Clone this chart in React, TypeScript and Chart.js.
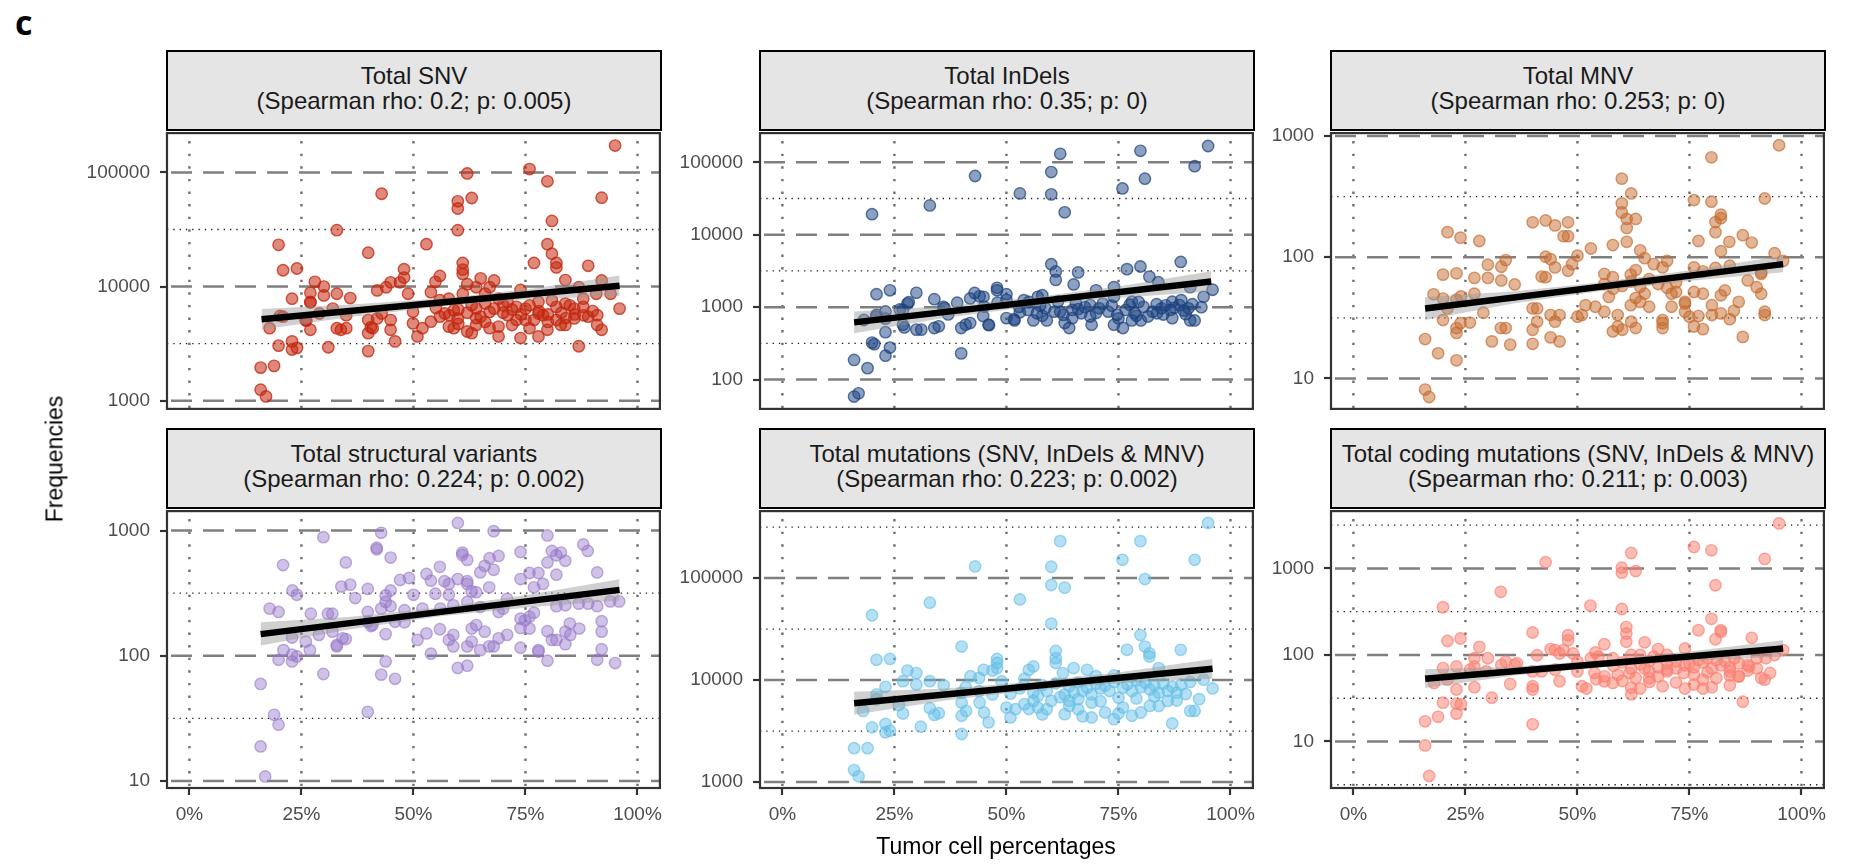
import React, { useEffect, useRef } from "react";
import { Chart, registerables } from "chart.js";

Chart.register(...registerables);

const FONT = "'Liberation Sans', Arial, Helvetica, sans-serif";

// ---------- shared axis data ----------
const xBreaks = [0, 25, 50, 75, 100];
const xBreakLabels = ["0%", "25%", "50%", "75%", "100%"];
const bandXs = [16, 36, 56, 76, 96];

// ---------- Panel 1: Total SNV ----------
const snvPoints: [number, number][] = [
  [95.0,172000],[75.9,107000],[62.0,98000],[79.9,83600],[42.9,65000],[92.0,60100],[63.0,59700],[59.9,55800],[59.9,48300],[80.9,37600],
  [32.9,31200],[59.9,31200],[19.9,23200],[52.9,23500],[79.9,23500],[39.9,19800],[80.9,19400],[76.9,16100],[81.9,16100],[81.9,14700],
  [61.0,16100],[61.0,14100],[61.0,12900],[89.0,15200],[20.9,13900],[24.0,14400],[47.9,14200],[47.9,12000],[47.0,10900],[44.9,10900],
  [28.0,11000],[55.9,12400],[54.9,11000],[65.0,11800],[68.0,11300],[83.9,11400],[92.0,11300],[30.0,10000],[27.0,8810],[27.0,7330],
  [30.0,8360],[32.9,8650],[35.9,7930],[22.9,7830],[41.9,9250],[43.9,9860],[48.8,8650],[53.9,8930],[62.0,10500],[64.0,9860],
  [67.0,9860],[73.9,9350],[86.9,9860],[90.8,8650],[94.0,8650],[96.0,6410],[17.9,4320],[20.9,5450],[25.9,5090],[27.0,4180],
  [29.0,5810],[32.0,6410],[35.0,5620],[32.9,4320],[33.8,4180],[35.0,4320],[39.9,5090],[39.9,3910],[40.9,4320],[41.9,5260],
  [42.9,5810],[44.9,5090],[44.9,4180],[45.9,3310],[49.9,6010],[49.9,4760],[50.9,3660],[52.0,4320],[53.9,4930],[55.9,5450],
  [57.0,5810],[57.9,4460],[59.0,4320],[59.9,5260],[62.0,4040],[63.0,3910],[64.0,4610],[65.0,5450],[66.0,7100],[67.0,4320],
  [68.0,6410],[69.0,4460],[69.0,3660],[71.0,5620],[73.9,3540],[75.0,6410],[75.9,4320],[76.9,5090],[77.9,3660],[78.9,5620],
  [79.9,4180],[81.9,5090],[82.9,4610],[83.9,4610],[84.9,6850],[85.9,5260],[86.9,3000],[87.9,6640],[89.0,5450],[91.0,4610],
  [92.0,4180],[91.0,5620],[19.9,3040],[22.9,3310],[22.9,2810],[24.0,2900],[31.0,2940],[39.9,2720],[15.9,1950],[18.9,2020],
  [15.9,1250],[17.1,1090],[57.9,7830],[59.0,6210],[63.0,6850],[64.0,6410],[70.0,6850],[71.0,7330],[73.0,6640],[75.9,6850],
  [77.9,7330],[80.9,7570],[81.9,6640],[83.9,7100],[85.9,6410],[87.9,7830],[55.9,7590],[61.0,8650],[66.0,8650],[69.0,7830],
  [73.0,5090],[75.0,5090],[77.9,5810],[20.2,5530],[26.1,5030],[27.0,7250],[40.5,4400],
  [58,5600],[60,6300],[62,5900],[64,5300],[67,6000],[70,5900],[72,6300],[74,5700],[78,6100],[80,5700],
  [83,5900],[86,5700],[88,5600],[90,6100],[72,4600],[80,4900],[84,5300],[60,4700],[66,4900],[55,6500]
];
const snvFitX = [16.1, 96];
const snvFitY = [5180, 10160];
const snvBandHi = [6370, 6950, 7850, 9510, 12500];
const snvBandLo = [4210, 5400, 6680, 7730, 8260];

// ---------- Panel 2: Total InDels ----------
const indelPoints: [number, number][] = [
  [95,168000],[79.9,144000],[62,131000],[92,88300],[60,73300],[43,64700],[80.9,59400],[75.9,43600],[53,37200],[60,36100],
  [32.9,25400],[20,19200],[63,20400],[60,3920],[88.9,4210],[79.9,3640],[76.9,3350],[66,3020],[61,3110],[61,2380],
  [81.9,2640],[65,2060],[83.9,2210],[74,1890],[96,1740],[91,1890],[47.9,1850],[47.9,1710],[24,1710],[29.9,1580],
  [21,1510],[50,1510],[44.9,1390],[41.9,1320],[33.9,1290],[27.9,1120],[35.9,1010],[39,1150],[53.9,1250],[57,1390],
  [58,1460],[70,1710],[74,1390],[78,1190],[87,1190],[89,1250],[94,1390],[23,871],[21,783],[26.9,916],
  [26.9,573],[29.9,490],[31,490],[33.9,516],[34.9,544],[39.9,516],[40.9,573],[41.9,604],[46,573],[50,706],
  [51.8,656],[56,656],[59,656],[63,604],[64,516],[69,573],[74,573],[76,516],[78,656],[80,656],
  [87,706],[91,656],[92,656],[16,187],[19,144],[20,324],[20.5,309],[23,451],[24,277],[23,214],
  [39.9,230],[16,58.3],[17,64.6],[52.8,1010],[54.8,915],[56.8,824],[58.7,964],[60.7,868],[62.7,783],[64.7,915],
  [66.7,824],[68.7,743],[70.7,964],[72.7,868],[74.7,783],[76.6,915],[78.6,824],[80.6,1010],[82.6,868],[84.6,964],
  [86.6,915],[88.6,1070],[90.6,964],[68.7,1070],[64.7,706],[81.6,743],[83.6,824],[26.2,931],[27.2,525],[28.2,1170],
  [36.2,977],[37,794],[42.9,1570],[44,1410],[44.8,755],[46.1,564],[51.7,681],[18.2,665],[20.9,741],[23,695],
  [55,1180],[57.5,1050],[61.5,1200],[65.5,1130],[67.5,1000],[71.5,1120],[73.5,1050],[77.5,1080],[79.5,1180],[83.5,1100],
  [85.5,1060],[87.5,980],[89.5,900],[91.5,1100],[93.5,1000],[62,870],[66,940],[70,830],[75,700],[79,760],
  [85,790],[90,800],[58,760],[53,850],[48,1150],[45,1020],[50,1260]
];
const indelFitX = [16, 95.7];
const indelFitY = [617, 2260];
const indelBandHi = [871, 1030, 1360, 1970, 3120];
const indelBandLo = [437, 711, 1030, 1365, 1640];

// ---------- Panel 3: Total MNV ----------
const mnvPoints: [number, number][] = [
  [95,839],[79.9,667],[59.9,445],[62,336],[76,296],[79.9,287],[91.8,305],[59.9,278],[59.9,234],[82,224],
  [82,210],[80.8,195],[63,207],[61,207],[61,174],[40,194],[42.9,201],[45,183],[47.9,194],[46.9,149],
  [47.9,149],[21,161],[23.9,145],[28.1,136],[80.8,161],[86.9,152],[88.9,132],[77,136],[83.9,134],[53,118],
  [57.9,126],[61,134],[64,114],[82,112],[50,103],[94,108],[95.9,93.3],[34,94.6],[42.9,101],[44,96.4],
  [45,82.4],[47.9,77.4],[48.8,87.7],[30,86.7],[33,83.4],[20,71.8],[23,73.6],[27,67.5],[30,67.5],[33,64.3],
  [36,59.6],[42,69.2],[42.9,68.4],[56,72.8],[57.9,68.4],[61.9,71.8],[63,78.3],[65,98.2],[67,87.7],[70,93.3],
  [69,82.4],[76,82.4],[78,76.4],[80.8,81.5],[84,85.1],[91,75.0],[91,72.8],[88,64.3],[90,56.6],[91,50.0],
  [17.9,49.4],[20,45.6],[21,37.8],[20,30.3],[23,44.7],[24,47.5],[27,50.0],[29,34.8],[26,28.9],[23.9,28.5],
  [23,26.0],[23,23.7],[16,21.1],[18.9,16.1],[23,14.1],[30.9,20.2],[35,19.0],[32.9,26.0],[34,26.0],[40,19.3],
  [44,21.8],[46,20.2],[40,25.2],[41,29.4],[41,37.8],[40,37.8],[44,33.3],[45,29.4],[46,33.3],[50,32.3],
  [51,33.3],[51.8,40.2],[54,39.0],[56,35.5],[57.9,24.4],[59,26.8],[60,25.2],[62,29.4],[63,26.0],[59,33.3],
  [61.9,40.2],[64,42.8],[65,50.0],[66,39.0],[69,30.3],[69,26.0],[69,28.5],[71,39.0],[74,41.5],[74,35.5],
  [75,32.3],[76,26.8],[78,25.5],[77,32.7],[80,33.3],[82,34.4],[84,30.8],[84.9,36.1],[86,42.8],[86.9,22.0],
  [91.8,33.3],[91.8,35.5],[80,40.2],[82,48.5],[82.9,53.2],[76,51.6],[78,50.0],[72,51.6],[71,50.0],[74,42.8],
  [16,8.09],[16.9,7.02],[56,60],[58,55],[60,58],[62,63],[64,57],[66,66],[68,60],[70,56],[72,62],[57,47],[63,46]
];
const mnvFitX = [16, 95.9];
const mnvFitY = [37.8, 87.7];
const mnvBandHi = [47.0, 52.4, 62.4, 78.9, 103];
const mnvBandLo = [30.3, 41.6, 53.1, 64.1, 75.0];

// ---------- Panel 4: Total structural variants ----------
const svPoints: [number, number][] = [
  [59.9,1150],[42.8,959],[67.9,989],[79.9,914],[29.9,885],[41.8,729],[41.8,708],[87.9,774],[88.9,687],[73.9,675],
  [60.9,667],[60.9,638],[62,583],[69,627],[67,601],[80.9,687],[81.9,635],[82.9,667],[83.9,573],[44.9,608],
  [20.9,530],[34.9,556],[55.9,513],[65.9,522],[67.9,486],[64.9,463],[79.9,556],[75.9,458],[77.9,458],[81.9,444],
  [91,463],[52.9,450],[53.9,398],[49,418],[47,403],[56.9,394],[57.9,375],[59.9,410],[62,394],[62,375],
  [73.9,410],[76.9,352],[78.9,375],[33.9,357],[35.9,370],[39.8,342],[23,332],[24,307],[44.9,332],[43.8,303],
  [63,326],[64,322],[66.9,352],[54.9,313],[57.9,307],[50,307],[37,289],[17.9,238],[19.9,224],[27.1,217],
  [31.9,217],[30.9,217],[39.8,224],[42.8,238],[43.8,269],[44.9,249],[48,231],[52,238],[56,238],[58.9,253],
  [62,269],[64.9,245],[69,224],[70,238],[70.9,285],[73.9,198],[74.9,192],[75.9,205],[76.9,221],[81.9,249],
  [83.9,253],[86.9,261],[89,261],[91,249],[93.9,272],[95.9,272],[92,189],[92,156],[87,165],[84.9,181],
  [83.9,156],[85,147],[81.9,134],[80.9,134],[79.9,157],[83.9,124],[73.9,167],[75.9,165],[73.9,116],[77.9,111],
  [77.9,108],[79.9,91.4],[91,92.9],[92,113],[95,87.5],[70.9,147],[69,138],[67.9,119],[65.9,156],[63,165],
  [64,176],[62,119],[63,130],[64.9,111],[66.9,119],[58.9,147],[58.9,119],[57.9,134],[55.9,163],[52.9,151],
  [50.9,134],[53.9,104],[45.9,187],[48,185],[40.9,176],[39.8,187],[43.8,149],[34.9,136],[32.9,122],[32.9,119],
  [28.9,147],[31.9,156],[26,130],[22.9,140],[26.9,111],[21,111],[22.9,102],[24,98.9],[19.9,92.9],[22.9,90.2],
  [29.9,71.6],[43.8,90.2],[42.8,70.8],[45.9,65.5],[59.9,80.0],[62,83.4],[15.9,59.7],[18.9,33.8],[19.9,28.2],[39.8,35.7],
  [15.9,18.9],[16.9,10.9],[34.2,138],[40.5,173]
];
const svFitX = [15.9, 96];
const svFitY = [149, 336];
const svBandHi = [185, 205, 243, 308, 408];
const svBandLo = [121, 163, 207, 244, 276];

// ---------- Panel 5: Total mutations ----------
const totPoints: [number, number][] = [
  [95,347000],[62,230000],[79.9,230000],[75.9,151000],[92,151000],[43,130000],[60,129000],[80.9,97700],[60,85500],[63,80500],
  [53,61700],[32.9,57300],[20,43200],[60,35800],[79.9,27600],[40,21300],[76.9,19800],[88.9,19800],[61,19300],[80.9,21300],
  [81.9,18300],[81.9,17000],[61,16400],[61,14700],[21,15800],[24,16100],[47.9,16100],[47.9,14700],[47.9,13100],[44.9,12600],
  [46.9,12400],[55,12600],[56,13600],[65,13100],[68,12600],[62.6,11700],[27.9,12400],[29.9,11700],[26.9,9750],[29.9,9040],
  [32.9,9750],[36,8910],[42,10900],[43.9,10500],[48.9,9750],[54,10300],[70,10900],[74,11100],[84,13100],[91,9590],
  [94,10100],[96,8280],[23,8590],[21,7230],[39.9,7500],[40.9,8510],[43.9,7800],[46.9,7230],[50.9,7350],[53,8280],
  [56,7520],[59,7800],[63,7230],[65,7520],[67,7800],[69,7230],[71,8280],[73,7800],[76,8400],[78,7800],
  [80,8530],[82,8090],[84,7520],[86,7800],[88,7520],[75,6710],[69,6010],[64,6240],[57,6970],[18,4990],
  [21,6470],[26,5700],[26.9,4700],[32.9,5300],[33.9,4560],[34.9,4730],[40,6010],[40,4470],[41,4990],[44,6010],
  [45,4810],[46,3850],[50,5380],[50.9,4300],[52,5180],[54,5800],[56,6240],[57,5380],[59,5180],[60,6240],
  [63,4630],[64,5580],[66,5180],[69,4300],[72,4810],[74,4140],[76,5380],[78,4470],[80,4810],[82,5580],
  [84,5580],[86,6240],[87,3760],[91,4990],[92,4990],[20,3440],[23,3710],[23,3080],[24,3190],[30.9,3490],
  [40,2960],[16,2150],[19,2150],[16,1310],[17,1140],
  [58,8900],[61,9300],[64,8700],[66,9500],[68,8400],[70,9200],[72,8800],[74,9600],[77,9100],[79,9900],
  [81,9400],[83,8900],[85,9200],[87,8600],[89,9000],[90,7300],[93,6500],[62,6800],[66,6500],[71,6200],
  [79,6600],[83,6900],[88,6300],[55,5200],[58,4600],[67,4400],[75,4700]
];
const totFitX = [16, 96];
const totFitY = [5920, 12900];
const totBandHi = [7670, 8260, 9590, 12080, 16100];
const totBandLo = [4560, 6270, 7980, 9380, 10300];

// ---------- Panel 6: Total coding mutations ----------
const codPoints: [number, number][] = [
  [95,3320],[76,1770],[79.9,1620],[62,1510],[91.8,1290],[42.9,1180],[59.9,1020],[59.9,893],[63,933],[80.8,640],
  [32.9,537],[20,356],[52.9,372],[59.9,340],[79.9,262],[60.9,210],[60.9,177],[60.9,142],[77,193],[82,193],
  [82,185],[80.8,152],[40,182],[47.9,169],[47.9,148],[46.9,114],[23.9,155],[21,145],[28.1,124],[88.9,158],
  [56,133],[65,140],[68,117],[54,107],[44,117],[45,114],[74,119],[95.9,114],[27,91.6],[30,91.6],
  [34,83.9],[36.5,80.4],[41,99.3],[46,104],[49,104],[50,83.9],[53,91.6],[54.7,95.7],[57.9,91.6],[62,100],
  [64,100],[67,95.7],[70,100],[72,83.9],[75,80.4],[77,87.7],[79,91.6],[81,87.7],[83,83.9],[85,91.6],
  [88,76.9],[90,91.6],[92,91.6],[94,100],[20,70.5],[23,73.6],[26,67.5],[27,73.6],[29.6,64.6],[33,76.9],
  [36,76.9],[40,64.6],[42,64.6],[45,67.5],[50,64.6],[53.8,61.8],[56,56.6],[59,59.2],[61.6,61.8],[63,54.2],
  [66,64.6],[68,56.6],[70,64.6],[73.7,61.8],[76,59.2],[79,63.1],[81,54.2],[84,64.6],[86,56.6],[88.3,73.6],
  [91,54.2],[91.8,51.9],[18,47.5],[21,51.9],[27,42.4],[35,46.2],[40,43.6],[40,39.9],[46,49.7],[51,43.6],
  [52,40.9],[54.2,52.4],[56,49.7],[57.9,47.5],[62,35.0],[62,41.7],[64,40.9],[66.1,48.8],[69,43.6],[74,40.9],
  [76,45.5],[78,40.9],[80,42.4],[84,44.7],[86,56.6],[86.9,28.8],[23,39.9],[23,27.4],[20,28.1],[24,26.9],
  [23,21.0],[30.9,32.1],[18.9,19.3],[16,17.1],[40,15.8],[16,9.0],[16.9,4.0],
  [58,75],[60,82],[62,70],[64,78],[66,85],[68,72],[70,80],[72,70],[74,76],[76,72],
  [78,82],[80,70],[82,76],[84,72],[86,80],[88,66],[90,70],[93,62],[60,50],[66,54],
  [72,48],[78,52],[84,58],[70,68],[65,70]
];
const codFitX = [16, 95.9];
const codFitY = [53.2, 119];
const codBandHi = [68.2, 73.1, 87.3, 111, 148];
const codBandLo = [41.5, 58.1, 72.6, 85.9, 95.7];

// ---------- colours ----------
const snvRGB = [195, 40, 15];
const indelRGB = [28, 66, 128];
const mnvRGB = [198, 108, 48];
const svRGB = [150, 120, 200];
const totRGB = [100, 190, 230];
const codRGB = [250, 128, 114];

// ---------- layout ----------
const COL_LEFT = [167, 760, 1331];
const ROW_TOP = [130, 508];
const STRIP_TOP = [50, 428];
const PLOT_W = 494;
const PLOT_H = 280;
const Y_AXIS_W = 130;
const PAD_TOP = 4;
const PAD_RIGHT = 6;

type PanelDef = {
  title: string;
  subtitle: string;
  col: number;
  row: number;
  points: [number, number][];
  fitX: number[];
  fitY: number[];
  bandHi: number[];
  bandLo: number[];
  yMin: number;
  yMax: number;
  yMajor: number[];
  yMinor: number[];
  rgb: number[];
  fillAlpha: number;
  lineAlpha: number;
};

const panels: PanelDef[] = [
  { title: "Total SNV", subtitle: "(Spearman rho: 0.2; p: 0.005)", col: 0, row: 0, points: snvPoints,
    fitX: snvFitX, fitY: snvFitY, bandHi: snvBandHi, bandLo: snvBandLo, yMin: 848, yMax: 221000,
    yMajor: [1000, 10000, 100000], yMinor: [3162.3, 31623], rgb: snvRGB, fillAlpha: 0.55, lineAlpha: 0.78 },
  { title: "Total InDels", subtitle: "(Spearman rho: 0.35; p: 0)", col: 1, row: 0, points: indelPoints,
    fitX: indelFitX, fitY: indelFitY, bandHi: indelBandHi, bandLo: indelBandLo, yMin: 39.4, yMax: 253000,
    yMajor: [100, 1000, 10000, 100000], yMinor: [316.23, 3162.3, 31623], rgb: indelRGB, fillAlpha: 0.5, lineAlpha: 0.72 },
  { title: "Total MNV", subtitle: "(Spearman rho: 0.253; p: 0)", col: 2, row: 0, points: mnvPoints,
    fitX: mnvFitX, fitY: mnvFitY, bandHi: mnvBandHi, bandLo: mnvBandLo, yMin: 5.6, yMax: 1057,
    yMajor: [10, 100, 1000], yMinor: [31.623, 316.23], rgb: mnvRGB, fillAlpha: 0.5, lineAlpha: 0.68 },
  { title: "Total structural variants", subtitle: "(Spearman rho: 0.224; p: 0.002)", col: 0, row: 1, points: svPoints,
    fitX: svFitX, fitY: svFitY, bandHi: svBandHi, bandLo: svBandLo, yMin: 8.81, yMax: 1429,
    yMajor: [10, 100, 1000], yMinor: [31.623, 316.23], rgb: svRGB, fillAlpha: 0.45, lineAlpha: 0.6 },
  { title: "Total mutations (SNV, InDels & MNV)", subtitle: "(Spearman rho: 0.223; p: 0.002)", col: 1, row: 1, points: totPoints,
    fitX: totFitX, fitY: totFitY, bandHi: totBandHi, bandLo: totBandLo, yMin: 875, yMax: 453000,
    yMajor: [1000, 10000, 100000], yMinor: [3162.3, 31623, 316228], rgb: totRGB, fillAlpha: 0.48, lineAlpha: 0.62 },
  { title: "Total coding mutations (SNV, InDels & MNV)", subtitle: "(Spearman rho: 0.211; p: 0.003)", col: 2, row: 1, points: codPoints,
    fitX: codFitX, fitY: codFitY, bandHi: codBandHi, bandLo: codBandLo, yMin: 2.9, yMax: 4603,
    yMajor: [10, 100, 1000], yMinor: [3.1623, 31.623, 316.23, 3162.3], rgb: codRGB, fillAlpha: 0.52, lineAlpha: 0.68 },
];

const gridPlugin = {
  id: "panelGrid",
  beforeDatasetsDraw(chart: any, _args: any, opts: any) {
    const { ctx, chartArea: a, scales } = chart;
    const xs = scales.x;
    const ys = scales.y;
    ctx.save();
    ctx.beginPath();
    ctx.rect(a.left, a.top, a.right - a.left, a.bottom - a.top);
    ctx.clip();
    ctx.lineCap = "butt";
    const hline = (py: number) => {
      ctx.beginPath();
      ctx.moveTo(a.left, py);
      ctx.lineTo(a.right, py);
      ctx.stroke();
    };
    // minor horizontal (dotted black)
    ctx.strokeStyle = "#1a1a1a";
    ctx.lineWidth = 1.3;
    ctx.setLineDash([1.3, 5]);
    for (const v of opts.minor) hline(ys.getPixelForValue(v));
    // vertical (dotted grey)
    ctx.strokeStyle = "#6e6e6e";
    ctx.lineWidth = 2.4;
    ctx.setLineDash([2.4, 10.2]);
    for (const v of opts.xBreaks) {
      const px = xs.getPixelForValue(v);
      ctx.beginPath();
      ctx.moveTo(px, a.top + 8);
      ctx.lineTo(px, a.bottom);
      ctx.stroke();
    }
    // major horizontal (dashed grey)
    ctx.strokeStyle = "#7f7f7f";
    ctx.lineWidth = 2.5;
    ctx.setLineDash([21, 11]);
    ctx.lineDashOffset = -4;
    for (const v of opts.major) hline(ys.getPixelForValue(v));
    ctx.restore();
  },
  afterDatasetsDraw(chart: any) {
    const { ctx, chartArea: a } = chart;
    ctx.save();
    ctx.strokeStyle = "#333333";
    ctx.lineWidth = 2.2;
    ctx.setLineDash([]);
    ctx.strokeRect(a.left, a.top, a.right - a.left, a.bottom - a.top);
    ctx.restore();
  },
};

function rgba(c: number[], a: number) {
  return `rgba(${c[0]},${c[1]},${c[2]},${a})`;
}

function zeroPad(s: any) {
  s.paddingTop = 0;
  s.paddingBottom = 0;
  s.paddingLeft = 0;
  s.paddingRight = 0;
}

function Panel({ p }: { p: PanelDef }) {
  const ref = useRef<HTMLCanvasElement | null>(null);
  const isBottom = p.row === 1;
  const xAxisH = isBottom ? 50 : 6;
  const canvasW = Y_AXIS_W + PLOT_W + PAD_RIGHT;
  const canvasH = PAD_TOP + PLOT_H + xAxisH;
  const left = COL_LEFT[p.col] - Y_AXIS_W;
  const top = ROW_TOP[p.row] - PAD_TOP;

  useEffect(() => {
    const bandPts = (vals: number[]) =>
      bandXs.map((x, i) => ({ x: i === 0 ? p.fitX[0] : i === bandXs.length - 1 ? p.fitX[1] : x, y: vals[i] }));
    const chart = new Chart(ref.current as HTMLCanvasElement, {
      type: "scatter",
      data: {
        datasets: [
          {
            type: "line",
            data: p.fitX.map((x, i) => ({ x, y: p.fitY[i] })),
            borderColor: "#000000",
            borderWidth: 6.5,
            pointRadius: 0,
            fill: false,
            borderCapStyle: "butt",
          } as any,
          {
            type: "line",
            data: bandPts(p.bandHi),
            borderWidth: 0,
            borderColor: "rgba(0,0,0,0)",
            pointRadius: 0,
            backgroundColor: "rgba(150,150,150,0.45)",
            fill: "+1",
          } as any,
          {
            type: "line",
            data: bandPts(p.bandLo),
            borderWidth: 0,
            borderColor: "rgba(0,0,0,0)",
            pointRadius: 0,
            fill: false,
          } as any,
          {
            type: "scatter",
            data: p.points.map(([x, y]) => ({ x, y })),
            backgroundColor: rgba(p.rgb, p.fillAlpha),
            borderColor: rgba(p.rgb, p.lineAlpha),
            borderWidth: 1.4,
            pointRadius: 5.7,
            pointHoverRadius: 5.7,
          } as any,
        ],
      },
      options: {
        responsive: false,
        animation: false,
        devicePixelRatio: 1,
        events: [],
        layout: { padding: { left: 0, right: PAD_RIGHT, top: PAD_TOP, bottom: 0 } },
        plugins: {
          legend: { display: false },
          tooltip: { enabled: false },
          title: { display: false },
          panelGrid: { minor: p.yMinor, major: p.yMajor, xBreaks },
        } as any,
        scales: {
          x: {
            type: "linear",
            min: -5,
            max: 105,
            bounds: "data",
            afterBuildTicks: (s: any) => {
              s.ticks = xBreaks.map((v) => ({ value: v }));
            },
            afterFit: (s: any) => {
              s.height = xAxisH;
              zeroPad(s);
            },
            grid: {
              drawOnChartArea: false,
              drawTicks: isBottom,
              tickLength: 7,
              tickWidth: 2.2,
              tickColor: "#333333",
              color: "#333333",
              lineWidth: 0,
            },
            border: { display: false },
            ticks: {
              display: isBottom,
              padding: 8,
              autoSkip: false,
              maxRotation: 0,
              color: "#4D4D4D",
              font: { size: 19, family: FONT },
              callback: (_v: any, i: number) => xBreakLabels[i],
            },
          },
          y: {
            type: "logarithmic",
            min: p.yMin,
            max: p.yMax,
            bounds: "data",
            afterBuildTicks: (s: any) => {
              s.ticks = p.yMajor.map((v) => ({ value: v }));
            },
            afterFit: (s: any) => {
              s.width = Y_AXIS_W;
              zeroPad(s);
            },
            grid: {
              drawOnChartArea: false,
              drawTicks: true,
              tickLength: 7,
              tickWidth: 2.2,
              tickColor: "#333333",
              color: "#333333",
              lineWidth: 0,
            },
            border: { display: false },
            ticks: {
              padding: 10,
              autoSkip: false,
              color: "#4D4D4D",
              font: { size: 19, family: FONT },
              callback: (v: any) => String(v),
            },
          },
        } as any,
      },
      plugins: [gridPlugin as any],
    });
    return () => chart.destroy();
  }, []);

  return (
    <>
      <canvas
        ref={ref}
        width={canvasW}
        height={canvasH}
        style={{ position: "absolute", left, top, width: canvasW, height: canvasH }}
      />
      <div
        style={{
          position: "absolute",
          left: COL_LEFT[p.col] - 1,
          top: STRIP_TOP[p.row],
          width: PLOT_W + 2,
          height: ROW_TOP[p.row] - STRIP_TOP[p.row] + 1,
          boxSizing: "border-box",
          border: "2px solid #000",
          background: "#E5E5E5",
          display: "flex",
          flexDirection: "column",
          alignItems: "center",
          justifyContent: "center",
          paddingBottom: 5,
          fontFamily: FONT,
          fontSize: 24,
          lineHeight: "25px",
          color: "#1A1A1A",
          whiteSpace: "nowrap",
        }}
      >
        <div>{p.title}</div>
        <div>{p.subtitle}</div>
      </div>
    </>
  );
}

export default function App() {
  useEffect(() => {
    document.body.style.margin = "0";
  }, []);
  return (
    <div
      style={{
        position: "absolute",
        left: 0,
        top: 0,
        width: 1858,
        height: 867,
        overflow: "hidden",
        background: "#ffffff",
        fontFamily: FONT,
      }}
    >
      <div
        style={{
          position: "absolute",
          left: 15,
          top: 5,
          fontFamily: "'Open Sans', 'Liberation Sans', sans-serif",
          fontWeight: 700,
          fontSize: 34,
          lineHeight: "34px",
          color: "#000",
        }}
      >
        c
      </div>
      {panels.map((p, i) => (
        <Panel key={i} p={p} />
      ))}
      <div
        style={{
          position: "absolute",
          left: 0,
          top: 0,
          transform: "translate(55px, 459px) translate(-50%, -50%) rotate(-90deg)",
          fontSize: 23,
          lineHeight: "23px",
          whiteSpace: "nowrap",
          color: "#000",
        }}
      >
        Frequencies
      </div>
      <div
        style={{
          position: "absolute",
          left: 996,
          top: 835,
          transform: "translateX(-50%)",
          fontSize: 23,
          lineHeight: "23px",
          whiteSpace: "nowrap",
          color: "#000",
        }}
      >
        Tumor cell percentages
      </div>
    </div>
  );
}
